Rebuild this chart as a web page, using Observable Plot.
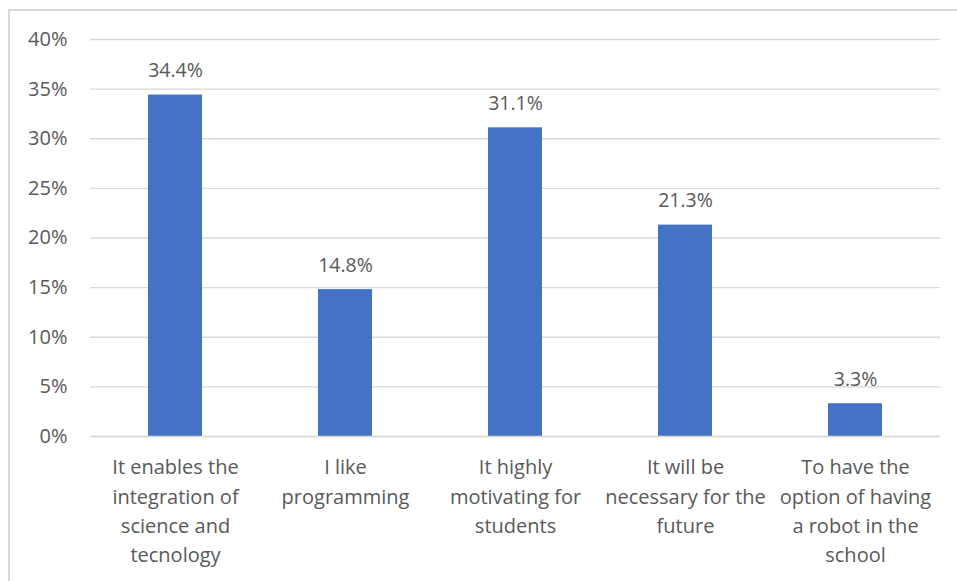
<!DOCTYPE html>
<html>
<head>
<meta charset="utf-8">
<script src="https://cdn.jsdelivr.net/npm/d3@7"></script>
<script src="https://cdn.jsdelivr.net/npm/@observablehq/plot@0.6"></script>
<style>
  html, body { margin: 0; padding: 0; background: #fff; overflow: hidden; }
  #wrap { position: relative; width: 957px; height: 581px; }
  #border { position: absolute; left: 8px; top: 9px; width: 1000px; height: 1000px; border: 2px solid #d9d9d9; box-sizing: border-box; pointer-events: none; }
  #chart { position: absolute; left: 0; top: 0; }
</style>
</head>
<body>
<div id="wrap">
  <div id="border"></div>
  <div id="chart"></div>
</div>
<script>
const categories = [
  "It enables the\nintegration of\nscience and\ntecnology",
  "I like\nprogramming",
  "It highly\nmotivating for\nstudents",
  "It will be\nnecessary for the\nfuture",
  "To have the\noption of having\na robot in the\nschool"
];
const values = [0.344, 0.148, 0.311, 0.213, 0.033];
const yTicks = [0, 0.05, 0.10, 0.15, 0.20, 0.25, 0.30, 0.35, 0.40];

const data = categories.map((c, i) => ({category: c, value: values[i]}));
const font = "'Open Sans', sans-serif";
const textColor = "#595959";

const chart = Plot.plot({
  width: 957,
  height: 581,
  marginLeft: 90,
  marginRight: 17,
  marginTop: 39,
  marginBottom: 145,
  style: {fontFamily: font, fontSize: "20px", color: textColor, background: "transparent"},
  x: {domain: categories, paddingInner: 0.685, paddingOuter: 0.3425, label: null},
  y: {domain: [0, 0.4], label: null},
  marks: [
    Plot.gridY(yTicks, {stroke: "#d9d9d9", strokeOpacity: 1, strokeWidth: 1.3}),
    Plot.axisY(yTicks, {tickSize: 0, tickPadding: 23, tickFormat: d => Math.round(d * 100) + "%", fontSize: 20, fill: textColor, label: null}),
    Plot.axisX({tickSize: 0, tickPadding: 17, fontSize: 20, lineHeight: 1.465, fill: textColor, label: null}),
    Plot.barY(data, {x: "category", y: "value", fill: "#4472C4"}),
    Plot.ruleY([0], {stroke: "#d9d9d9", strokeWidth: 1.5}),
    Plot.text(data, {x: "category", y: "value", text: d => (d.value * 100).toFixed(1) + "%", dy: -24, fontSize: 19.5, fill: textColor})
  ]
});
document.getElementById("chart").appendChild(chart);
</script>
</body>
</html>
